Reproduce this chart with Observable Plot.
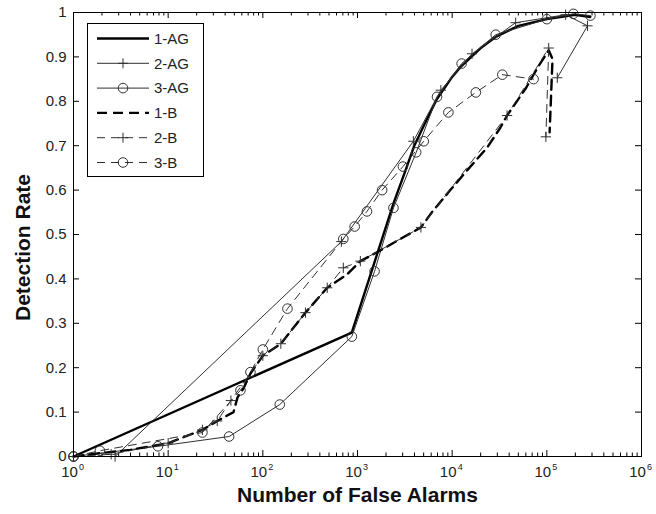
<!DOCTYPE html>
<html>
<head>
<meta charset="utf-8">
<script src="https://cdn.jsdelivr.net/npm/d3@7"></script>
<script src="https://cdn.jsdelivr.net/npm/@observablehq/plot@0.6"></script>
<style>
  html, body { margin: 0; padding: 0; background: #fff; }
  #wrap { position: relative; width: 656px; height: 514px; overflow: hidden; }
  #legend { position: absolute; left: 87px; top: 23px; }
</style>
</head>
<body>
<div id="wrap"></div>
<script>
// ---- Data ----
const ag1X = [1, 870, 2400, 3160, 3980, 5010, 6900, 10000, 12600, 20000, 28800, 50000, 100000, 200000, 288000];
const ag1Y = [0, 0.279, 0.57, 0.64, 0.70, 0.745, 0.805, 0.855, 0.88, 0.92, 0.945, 0.97, 0.985, 0.995, 0.99];

const ag2X = [1, 2.75, 676, 3890, 7590, 16200, 46800, 158000, 269000, 129000];
const ag2Y = [0, 0, 0.484, 0.71, 0.825, 0.907, 0.977, 0.995, 0.97, 0.853];

const ag3X = [1, 7.8, 44, 151, 871, 1514, 2399, 4170, 6918, 12589, 28840, 100000, 190546, 288403];
const ag3Y = [0, 0.023, 0.045, 0.117, 0.27, 0.417, 0.56, 0.685, 0.81, 0.885, 0.95, 0.985, 0.997, 0.993];

const b1X = [1, 2, 4, 10, 23, 33, 49, 54, 63, 74, 100, 155, 282, 479, 776, 1072, 1738, 2630, 4677, 6310, 9550, 14454, 23442, 32359, 38019, 60256, 79433, 104713, 114815, 107000];
const b1Y = [0, 0.008, 0.015, 0.03, 0.06, 0.08, 0.10, 0.133, 0.155, 0.187, 0.227, 0.254, 0.324, 0.38, 0.41, 0.44, 0.464, 0.486, 0.516, 0.554, 0.6, 0.645, 0.696, 0.741, 0.768, 0.83, 0.875, 0.915, 0.895, 0.73];

const b2X = [1, 2.5, 10, 23, 33, 46, 100, 155, 282, 479, 708, 1072, 4677, 38019, 104713, 97724];
const b2Y = [0, 0.005, 0.03, 0.06, 0.08, 0.126, 0.227, 0.254, 0.324, 0.38, 0.425, 0.44, 0.516, 0.768, 0.92, 0.72];

const b3X = [1, 1.9, 23, 58, 74, 100, 182, 708, 933, 1259, 1820, 3020, 5012, 9120, 17783, 33884, 72444];
const b3Y = [0, 0.013, 0.054, 0.149, 0.19, 0.241, 0.333, 0.49, 0.518, 0.552, 0.60, 0.653, 0.71, 0.775, 0.82, 0.86, 0.85];

const seriesNames = ["1-AG", "2-AG", "3-AG", "1-B", "2-B", "3-B"];
const xMajorTicks = [1, 10, 100, 1000, 10000, 100000, 1000000];
const xTickExponents = ["0", "1", "2", "3", "4", "5", "6"];
const yTicks = [0, 0.1, 0.2, 0.3, 0.4, 0.5, 0.6, 0.7, 0.8, 0.9, 1];
const yTickLabels = ["0", "0.1", "0.2", "0.3", "0.4", "0.5", "0.6", "0.7", "0.8", "0.9", "1"];
const xLabel = "Number of False Alarms";
const yLabel = "Detection Rate";

// ---- Build tables ----
const toRows = (xs, ys) => xs.map((x, i) => ({x, y: ys[i]}));
const ag1 = toRows(ag1X, ag1Y), ag2 = toRows(ag2X, ag2Y), ag3 = toRows(ag3X, ag3Y);
const b1 = toRows(b1X, b1Y), b2 = toRows(b2X, b2Y), b3 = toRows(b3X, b3Y);
const xMinorTicks = [];
for (let d = 1; d < 1e6; d *= 10) for (let k = 2; k <= 9; k++) xMinorTicks.push(d * k);

const W = 656, H = 514, mL = 73, mR = 15, mT = 12, mB = 58;
const innerH = H - mT - mB, innerW = W - mL - mR;
const thin = "#303030";
const font = "'Liberation Sans', Arial, sans-serif";

const chart = Plot.plot({
  width: W, height: H,
  marginLeft: mL, marginRight: mR, marginTop: mT, marginBottom: mB,
  style: {fontFamily: font, background: "#fff", overflow: "visible"},
  x: {type: "log", domain: [1, 1e6], axis: null},
  y: {domain: [0, 1], axis: null},
  marks: [
    // inside ticks (MATLAB style) on all four sides
    Plot.tickX(xMajorTicks, {x: d => d, insetTop: innerH - 6, stroke: "#000"}),
    Plot.tickX(xMajorTicks, {x: d => d, insetBottom: innerH - 6, stroke: "#000"}),
    Plot.tickX(xMinorTicks, {x: d => d, insetTop: innerH - 3.5, stroke: "#000"}),
    Plot.tickX(xMinorTicks, {x: d => d, insetBottom: innerH - 3.5, stroke: "#000"}),
    Plot.tickY(yTicks, {y: d => d, insetRight: innerW - 6, stroke: "#000"}),
    Plot.tickY(yTicks, {y: d => d, insetLeft: innerW - 6, stroke: "#000"}),

    // series lines
    Plot.line(ag1, {x: "x", y: "y", stroke: "#000", strokeWidth: 2.4}),
    Plot.line(ag2, {x: "x", y: "y", stroke: thin, strokeWidth: 1}),
    Plot.line(ag3, {x: "x", y: "y", stroke: thin, strokeWidth: 1}),
    Plot.line(b1, {x: "x", y: "y", stroke: "#000", strokeWidth: 2.4, strokeDasharray: "10,6"}),
    Plot.line(b2, {x: "x", y: "y", stroke: thin, strokeWidth: 1, strokeDasharray: "8,6"}),
    Plot.line(b3, {x: "x", y: "y", stroke: thin, strokeWidth: 1, strokeDasharray: "8,6"}),

    // markers
    Plot.dot(ag2, {x: "x", y: "y", symbol: "plus", r: 3.4, stroke: thin, strokeWidth: 1}),
    Plot.dot(b2, {x: "x", y: "y", symbol: "plus", r: 3.4, stroke: thin, strokeWidth: 1}),
    Plot.dot(ag3, {x: "x", y: "y", symbol: "circle", r: 4.8, fill: "none", stroke: thin, strokeWidth: 1}),
    Plot.dot(b3, {x: "x", y: "y", symbol: "circle", r: 4.8, fill: "none", stroke: thin, strokeWidth: 1}),

    Plot.frame({stroke: "#000"}),

    // tick labels
    Plot.text(yTicks, {y: d => d, frameAnchor: "left", text: (d, i) => yTickLabels[i], textAnchor: "end", dx: -7, fontSize: 15, fill: "#222"}),
    Plot.text(xMajorTicks, {x: d => d, frameAnchor: "bottom", text: () => "10", textAnchor: "middle", dx: -4, dy: 20, fontSize: 15, fill: "#222"}),
    Plot.text(xMajorTicks, {x: d => d, frameAnchor: "bottom", text: (d, i) => xTickExponents[i], textAnchor: "middle", dx: 8, dy: 13, fontSize: 9, fill: "#222"}),

    // axis titles
    Plot.text([xLabel], {frameAnchor: "bottom", textAnchor: "middle", dy: 45, fontSize: 21, fontWeight: "bold", fill: "#111"}),
    Plot.text([yLabel], {frameAnchor: "left", textAnchor: "middle", rotate: -90, dx: -50, dy: 13, fontSize: 21, fontWeight: "bold", fill: "#111"})
  ]
});

const wrap = document.getElementById("wrap");
wrap.appendChild(chart);

// ---- Legend (inside the axes, top-left) ----
const lw = 117, lh = 154;
const lg = d3.create("svg").attr("id", "legend").attr("width", lw).attr("height", lh)
  .style("font-family", font);
lg.append("rect").attr("x", 0.5).attr("y", 0.5).attr("width", lw - 1).attr("height", lh - 1)
  .attr("fill", "#fff").attr("stroke", "#000");
const styles = [
  {w: 2.4, c: "#000", dash: null, m: null},
  {w: 1, c: thin, dash: null, m: "plus"},
  {w: 1, c: thin, dash: null, m: "circle"},
  {w: 2.4, c: "#000", dash: "10,6", m: null},
  {w: 1, c: thin, dash: "8,6", m: "plus"},
  {w: 1, c: thin, dash: "8,6", m: "circle"}
];
seriesNames.forEach((name, i) => {
  const cy = 15.5 + i * 24.8;
  const s = styles[i];
  const ln = lg.append("line").attr("x1", 10).attr("x2", 62).attr("y1", cy).attr("y2", cy)
    .attr("stroke", s.c).attr("stroke-width", s.w);
  if (s.dash) ln.attr("stroke-dasharray", s.dash);
  if (s.m === "circle") lg.append("circle").attr("cx", 36).attr("cy", cy).attr("r", 4.8)
    .attr("fill", "none").attr("stroke", s.c);
  if (s.m === "plus") lg.append("path").attr("d", `M31,${cy}H41M36,${cy - 5}V${cy + 5}`)
    .attr("stroke", s.c).attr("fill", "none");
  lg.append("text").attr("x", 67).attr("y", cy).attr("dy", "0.35em")
    .attr("font-size", 15).attr("fill", "#222").text(name);
});
wrap.appendChild(lg.node());
</script>
</body>
</html>
